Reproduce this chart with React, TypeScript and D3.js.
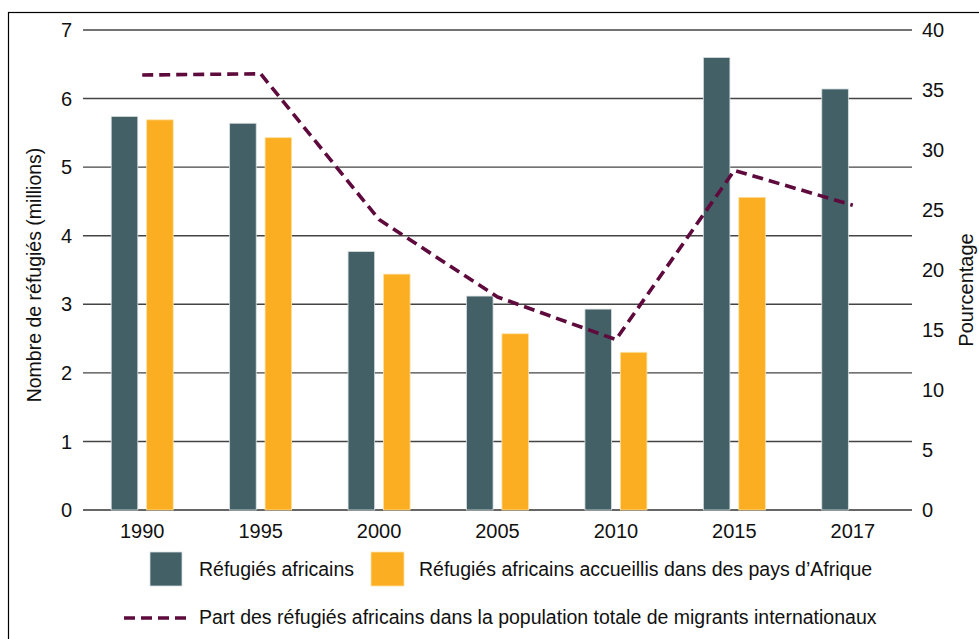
import React from "react";
import * as d3 from "d3";

const years = ["1990", "1995", "2000", "2005", "2010", "2015", "2017"];
const refugeesAfrican = [5.74, 5.64, 3.77, 3.12, 2.93, 6.6, 6.14];
const refugeesHostedInAfrica: (number | null)[] = [5.69, 5.43, 3.44, 2.57, 2.3, 4.56, null];
const sharePercent = [36.25, 36.35, 24.2, 17.75, 14.2, 28.3, 25.4];
const leftTicks = [0, 1, 2, 3, 4, 5, 6, 7];
const rightTicks = [0, 5, 10, 15, 20, 25, 30, 35, 40];

const legendBar1 = "Réfugiés africains";
const legendBar2 = "Réfugiés africains accueillis dans des pays d’Afrique";
const legendLine = "Part des réfugiés africains dans la population totale de migrants internationaux";
const leftTitle = "Nombre de réfugiés (millions)";
const rightTitle = "Pourcentage";

const W = 979;
const H = 639;
const plotLeft = 83;
const plotRight = 912;
const plotTop = 30;
const plotBottom = 510;

const DARK = "#436066";
const ORANGE = "#fbae22";
const LINE = "#5e0a3d";
const FONT = "'Liberation Sans', Arial, sans-serif";

export default function App() {
  const x = d3.scaleBand<string>().domain(years).range([plotLeft, plotRight]).paddingInner(0).paddingOuter(0);
  const groupW = 62;
  const sub = d3.scaleBand<string>().domain(["a", "b"]).range([0, groupW]).paddingInner(0.25);
  const yL = d3.scaleLinear().domain([0, 7]).range([plotBottom, plotTop]);
  const yR = d3.scaleLinear().domain([0, 40]).range([plotBottom, plotTop]);
  const cx = (yr: string) => (x(yr) as number) + x.bandwidth() / 2;

  const line = d3
    .line<number>()
    .x((_, i) => cx(years[i]))
    .y((d) => yR(d))
    .curve(d3.curveLinear);

  return (
    <svg
      width={W}
      height={H}
      style={{ position: "absolute", left: 0, top: 0, background: "#fff" }}
      fontFamily={FONT}
    >
      <rect x={8.5} y={12.5} width={1000} height={1000} fill="#fff" stroke="#000" strokeWidth={1.2} />

      {/* gridlines */}
      {leftTicks.map((t) => (
        <line
          key={"g" + t}
          x1={plotLeft}
          x2={plotRight}
          y1={yL(t)}
          y2={yL(t)}
          stroke={t === 0 ? "#666" : "#444"}
          strokeWidth={t === 0 ? 2 : 1.4}
        />
      ))}

      {/* left tick labels */}
      {leftTicks.map((t) => (
        <text key={"l" + t} x={72} y={yL(t)} dy="0.36em" textAnchor="end" fontSize={20} fill="#111">
          {t}
        </text>
      ))}
      {/* right tick labels */}
      {rightTicks.map((t) => (
        <text key={"r" + t} x={922} y={yR(t)} dy="0.36em" textAnchor="start" fontSize={20} fill="#111">
          {t}
        </text>
      ))}

      {/* axis titles */}
      <text
        transform={`translate(41,${(plotTop + plotBottom) / 2 + 5}) rotate(-90)`}
        textAnchor="middle"
        fontSize={19.5}
        fill="#111"
      >
        {leftTitle}
      </text>
      <text
        transform={`translate(973,${(plotTop + plotBottom) / 2 + 20}) rotate(-90)`}
        textAnchor="middle"
        fontSize={20}
        fill="#111"
      >
        {rightTitle}
      </text>

      {/* bars */}
      {years.map((yr, i) => {
        const gx = cx(yr) - groupW / 2;
        const v1 = refugeesAfrican[i];
        const v2 = refugeesHostedInAfrica[i];
        return (
          <g key={"b" + yr}>
            <rect
              x={gx + (sub("a") as number)}
              y={yL(v1)}
              width={sub.bandwidth()}
              height={yL(0) - yL(v1)}
              fill={DARK}
              stroke="#d8e0e1"
              strokeWidth={0.8}
            />
            {v2 != null && (
              <rect
                x={gx + (sub("b") as number)}
                y={yL(v2)}
                width={sub.bandwidth()}
                height={yL(0) - yL(v2)}
                fill={ORANGE}
                stroke="#fde2a6"
                strokeWidth={0.8}
              />
            )}
          </g>
        );
      })}

      {/* line */}
      <path
        d={line(sharePercent) || ""}
        fill="none"
        stroke={LINE}
        strokeWidth={3.6}
        strokeDasharray="11,6"
        strokeLinejoin="round"
      />

      {/* x labels */}
      {years.map((yr) => (
        <text key={"x" + yr} x={cx(yr)} y={538} textAnchor="middle" fontSize={20} fill="#111">
          {yr}
        </text>
      ))}

      {/* legend */}
      <rect x={150} y={552} width={32} height={34} fill={DARK} stroke="#d8e0e1" strokeWidth={0.8} />
      <text x={199} y={576} fontSize={19.5} fill="#111">
        {legendBar1}
      </text>
      <rect x={371} y={552} width={33} height={34} fill={ORANGE} stroke="#fde2a6" strokeWidth={0.8} />
      <text x={419} y={576} fontSize={19.5} fill="#111">
        {legendBar2}
      </text>
      <line x1={124} x2={186} y1={618} y2={618} stroke={LINE} strokeWidth={3.6} strokeDasharray="11,6" />
      <text x={199} y={624} fontSize={19.5} fill="#111">
        {legendLine}
      </text>
    </svg>
  );
}
